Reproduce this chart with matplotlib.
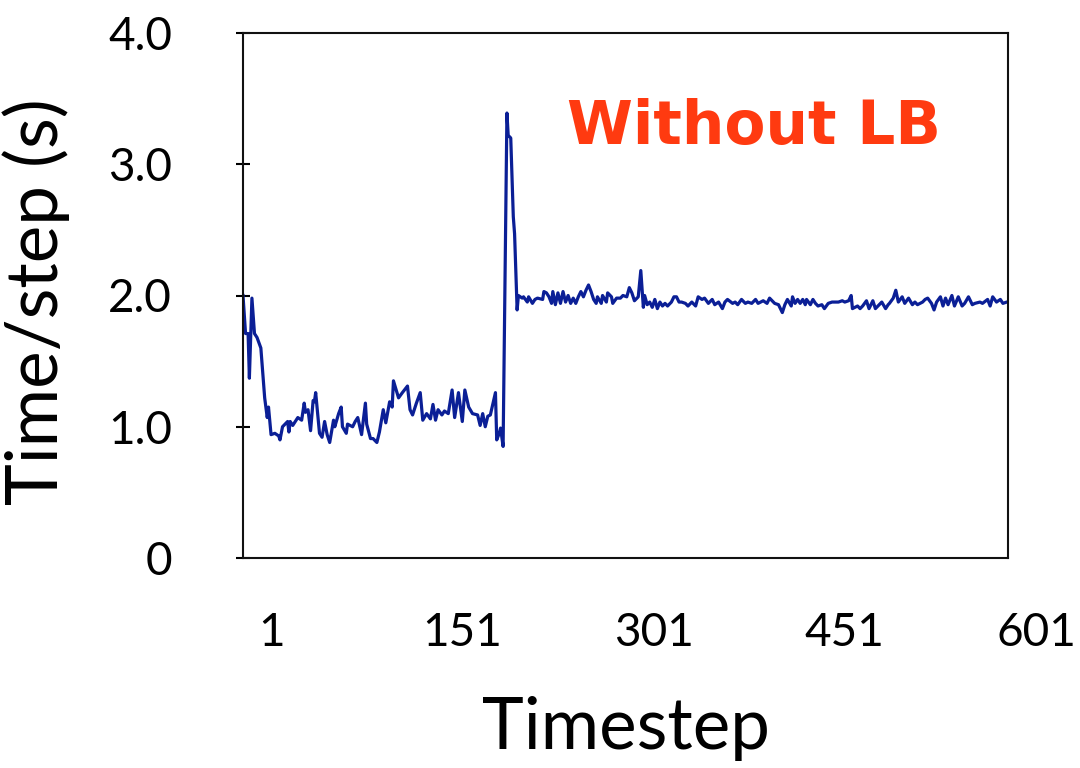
import matplotlib
matplotlib.use("Agg")
import matplotlib.pyplot as plt

steps = [1, 3, 5, 6, 8, 10, 12, 15, 18, 20, 21, 23, 26, 29, 30, 32, 36, 37, 38, 40,
         44, 47, 49, 50, 52, 54, 56, 57, 58, 61, 63, 65, 67, 69, 72, 73, 76, 78, 79, 82,
         83, 87, 89, 91, 94, 97, 98, 101, 103, 106, 108, 111, 113, 116, 118, 119, 123, 126, 130, 132,
         134, 137, 140, 142, 145, 148, 150, 152, 154, 157, 159, 162, 165, 167, 170, 173, 175, 178, 181, 185,
         187, 189, 191, 193, 195, 199, 200, 202, 203, 205, 208, 209, 211, 213, 214, 216, 217, 220, 221, 224,
         225, 228, 230, 232, 236, 237, 239, 241, 243, 244, 246, 248, 250, 252, 254, 256, 258, 260, 262, 264,
         266, 268, 270, 272, 274, 276, 278, 279, 282, 283, 286, 287, 290, 291, 294, 297, 299, 302, 304, 306,
         308, 311, 313, 315, 316, 318, 320, 322, 324, 326, 328, 330, 332, 334, 337, 339, 341, 343, 345, 348,
         350, 353, 356, 358, 361, 363, 366, 369, 371, 374, 377, 379, 381, 385, 387, 389, 392, 395, 397, 400,
         403, 405, 407, 409, 412, 414, 417, 418, 421, 424, 426, 428, 431, 432, 434, 436, 438, 440, 442, 443,
         446, 448, 450, 452, 455, 457, 460, 463, 465, 468, 471, 473, 476, 478, 479, 483, 485, 487, 490, 492,
         495, 497, 499, 502, 505, 507, 508, 511, 513, 515, 518, 520, 523, 526, 528, 530, 534, 536, 538, 541,
         543, 545, 548, 550, 552, 554, 557, 559, 562, 565, 567, 570, 573, 575, 579, 581, 585, 587, 589, 592,
         595, 597, 600, 601]
time_per_step = [2.00, 1.71, 1.71, 1.37, 1.98, 1.71, 1.68, 1.60, 1.22, 1.07, 1.15, 0.94, 0.95, 0.93, 0.90, 1.00, 1.04, 0.96, 1.04, 1.01,
                 1.07, 1.05, 1.18, 1.11, 1.13, 0.97, 1.20, 1.19, 1.26, 0.95, 0.92, 1.04, 0.94, 0.88, 1.05, 1.00, 1.10, 1.15, 1.00, 0.95,
                 1.02, 1.00, 1.04, 1.07, 0.94, 1.18, 1.02, 0.91, 0.91, 0.88, 0.96, 1.13, 1.03, 1.19, 1.15, 1.35, 1.22, 1.26, 1.31, 1.13,
                 1.09, 1.18, 1.26, 1.05, 1.10, 1.06, 1.17, 1.05, 1.13, 1.09, 1.12, 1.10, 1.28, 1.07, 1.26, 1.04, 1.28, 1.15, 1.10, 1.09,
                 1.01, 1.10, 1.00, 1.08, 1.09, 1.26, 0.90, 0.95, 0.99, 0.85, 3.39, 3.22, 3.20, 2.60, 2.47, 1.89, 2.00, 1.98, 1.99, 1.95,
                 1.99, 1.94, 1.97, 1.98, 1.97, 2.03, 2.02, 1.99, 1.94, 2.03, 1.93, 2.02, 1.94, 2.03, 1.95, 2.00, 1.94, 1.98, 1.94, 1.99,
                 2.03, 1.99, 2.04, 2.08, 2.03, 1.97, 1.94, 1.99, 1.94, 2.00, 1.95, 2.02, 1.99, 1.94, 1.98, 1.98, 2.00, 1.99, 2.06, 2.02,
                 1.96, 1.99, 2.19, 1.91, 2.00, 1.93, 1.95, 1.91, 1.97, 1.90, 1.95, 1.92, 1.94, 1.92, 1.95, 1.99, 1.99, 1.95, 1.95, 1.94,
                 1.92, 1.95, 1.92, 1.99, 1.97, 1.98, 1.94, 1.97, 1.93, 1.95, 1.90, 1.95, 1.97, 1.94, 1.95, 1.93, 1.97, 1.94, 1.95, 1.94,
                 1.97, 1.94, 1.95, 1.96, 1.94, 1.98, 1.95, 1.94, 1.93, 1.87, 1.93, 1.97, 1.92, 1.99, 1.94, 1.97, 1.94, 1.97, 1.93, 1.97,
                 1.93, 1.97, 1.94, 1.92, 1.93, 1.90, 1.94, 1.95, 1.95, 1.95, 1.96, 1.95, 1.96, 2.00, 1.90, 1.92, 1.90, 1.92, 1.96, 1.90,
                 1.96, 1.90, 1.92, 1.95, 1.90, 1.93, 1.94, 1.98, 2.04, 1.95, 1.99, 1.94, 1.98, 1.93, 1.95, 1.93, 1.95, 1.97, 1.98, 1.94,
                 1.89, 1.95, 1.99, 1.92, 1.98, 1.93, 2.00, 1.92, 1.99, 1.92, 1.94, 1.99, 1.93, 1.94, 1.95, 1.94, 1.97, 1.92, 1.99, 1.95,
                 1.97, 1.94, 1.95, 1.95]

xtick_values = [1, 151, 301, 451, 601]
ytick_values = [0, 1, 2, 3, 4]
ytick_labels = ["0", "1.0", "2.0", "3.0", "4.0"]

plt.rcParams["font.family"] = ["Lato", "DejaVu Sans"]

fig = plt.figure(figsize=(10.8, 7.68), dpi=100, facecolor="w")
ax = fig.add_axes((243 / 1080, 1 - 558 / 768, 765 / 1080, 525 / 768))

ax.plot(steps, time_per_step, color="#0b1f96", linewidth=2.3)

ax.set_xlim(1, 601)
ax.set_ylim(0, 4)
ax.set_yticks(ytick_values)
ax.set_yticklabels(ytick_labels)
ax.tick_params(axis="y", direction="inout", length=10, width=1.5, pad=46, labelsize=33)
ax.set_xticks([])

# excel-style category labels sit a bit right of their values
for v in xtick_values:
    ax.text(v + 22, -0.142, str(v), transform=ax.get_xaxis_transform(),
            ha="center", va="center", fontsize=33, clip_on=False)

for s in ax.spines.values():
    s.set_linewidth(1.5)
    s.set_color("#111111")

ax.set_xlabel("Timestep", fontsize=51, va="center")
ax.xaxis.set_label_coords(0.5, -0.324)
ax.set_ylabel("Time/step (s)", fontsize=51, va="center")
ax.yaxis.set_label_coords(-0.27, 0.488)

ax.text(0.668, 0.82, "Without LB", transform=ax.transAxes, ha="center", va="center",
        fontsize=43, fontweight="bold", family="DejaVu Sans", color="#ff3a10")

fig.savefig("out.png", dpi=100)
